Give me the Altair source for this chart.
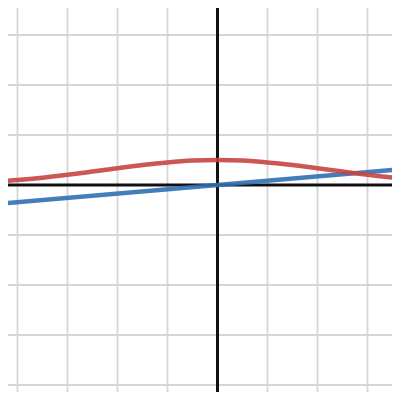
import altair as alt
import pandas as pd

# Red curve samples (grid unit = 1)
red_x = [-4.5, -4, -3.5, -3, -2.5, -2, -1.5, -1, -0.5, 0, 0.5, 1, 1.5, 2, 2.5, 3, 3.5, 4]
red_y = [0.066, 0.101, 0.147, 0.203, 0.268, 0.335, 0.399, 0.452, 0.488, 0.5,
         0.488, 0.452, 0.399, 0.335, 0.268, 0.203, 0.147, 0.101]
# Blue straight line end points
blue_x = [-4.5, 4]
blue_y = [-0.387, 0.344]
# Grid lines
grid_x = [-4, -3, -2, -1, 1, 2, 3]
grid_y = [-4, -3, -2, -1, 1, 2, 3]
axis_zero = [0]

xs = alt.Scale(domain=[-4.19, 3.49], nice=False, zero=False)
ys = alt.Scale(domain=[-4.14, 3.54], nice=False, zero=False)

red = pd.DataFrame({"x": red_x, "y": red_y})
blue = pd.DataFrame({"x": blue_x, "y": blue_y})
gx = pd.DataFrame({"v": grid_x})
gy = pd.DataFrame({"v": grid_y})
z = pd.DataFrame({"v": axis_zero})

grid_v = alt.Chart(gx).mark_rule(color="#d6d6d6", strokeWidth=1.8).encode(
    x=alt.X("v:Q", scale=xs, axis=None))
grid_h = alt.Chart(gy).mark_rule(color="#d6d6d6", strokeWidth=1.8).encode(
    y=alt.Y("v:Q", scale=ys, axis=None))
ax_v = alt.Chart(z).mark_rule(color="#111111", strokeWidth=3).encode(
    x=alt.X("v:Q", scale=xs, axis=None))
ax_h = alt.Chart(z).mark_rule(color="#111111", strokeWidth=3).encode(
    y=alt.Y("v:Q", scale=ys, axis=None))

blue_line = alt.Chart(blue).mark_line(color="#2d70b3", opacity=0.9, strokeWidth=4.5, clip=True).encode(
    x=alt.X("x:Q", scale=xs, axis=None), y=alt.Y("y:Q", scale=ys, axis=None))
red_line = alt.Chart(red).mark_line(color="#c74440", opacity=0.9, strokeWidth=4.5, clip=True,
                                    interpolate="monotone").encode(
    x=alt.X("x:Q", scale=xs, axis=None), y=alt.Y("y:Q", scale=ys, axis=None))

chart = alt.layer(grid_v, grid_h, ax_v, ax_h, blue_line, red_line).properties(
    width=384, height=384, autosize=alt.AutoSizeParams(type="none"), padding=0
).configure_view(stroke=None)

chart.save("out.html", embed_options={"renderer": "svg", "actions": False})
